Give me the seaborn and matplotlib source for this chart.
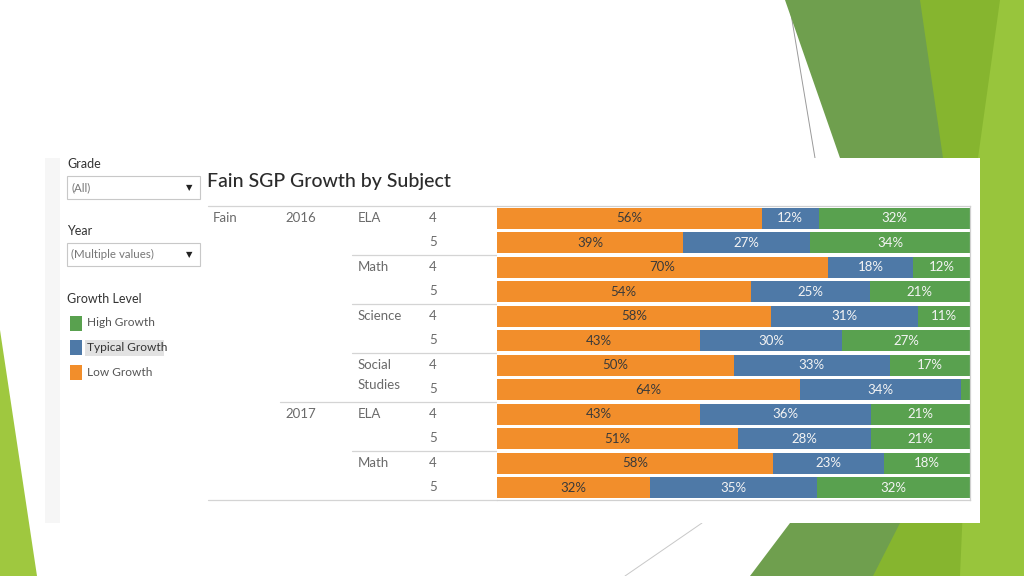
import numpy as np
import pandas as pd
import matplotlib
matplotlib.use("Agg")
import matplotlib.pyplot as plt
from matplotlib.patches import Polygon, Rectangle
from matplotlib.lines import Line2D
import seaborn as sns

# ---------------- data ----------------
years    = ["2016", "2016", "2016", "2016", "2016", "2016", "2016", "2016", "2017", "2017", "2017", "2017"]
subjects = ["ELA", "ELA", "Math", "Math", "Science", "Science", "Social\nStudies", "Social\nStudies",
            "ELA", "ELA", "Math", "Math"]
grades   = ["4", "5", "4", "5", "4", "5", "4", "5", "4", "5", "4", "5"]
low      = [56.0, 39.3, 70.0, 53.6, 58.0, 43.0, 50.0, 64.0, 43.0, 51.0, 58.4, 32.3]
typical  = [12.0, 26.9, 18.0, 25.2, 31.0, 30.0, 33.0, 34.0, 36.0, 28.0, 23.4, 35.4]
high     = [32.0, 33.8, 12.0, 21.2, 11.0, 27.0, 17.0, 2.0, 21.0, 21.0, 18.2, 32.3]
levels   = ["High Growth", "Typical Growth", "Low Growth"]
colors   = {"High Growth": "#59A14F", "Typical Growth": "#4E79A7", "Low Growth": "#F28E2B"}
title    = "Fain SGP Growth by Subject"
school   = "Fain"

df = pd.DataFrame({"year": years, "subject": subjects, "grade": grades,
                   "low": low, "typical": typical, "high": high})
df["key"] = [f"{y}|{s}|{g}" for y, s, g in zip(years, subjects, grades)]
df["c_low"] = df["low"]
df["c_typ"] = df["low"] + df["typical"]
df["c_high"] = df["low"] + df["typical"] + df["high"]

sns.set_theme(style="white")
FONT = ["Lato", "DejaVu Sans"]
plt.rcParams["font.family"] = FONT

W, H = 1024, 576
fig = plt.figure(figsize=(W / 100, H / 100), dpi=100)
fig.patch.set_facecolor("white")

def fx(x): return x / W
def fy(y): return 1 - y / H
def P(pts): return [(fx(x), fy(y)) for x, y in pts]

# ---------------- slide decoration ----------------
fig.patches.append(Polygon(P([(785, 0), (1024, 0), (1024, 576), (750, 576), (790, 523), (840, 158)]),
                           closed=True, transform=fig.transFigure, facecolor="#6f9f4e", edgecolor="none", zorder=0))
fig.patches.append(Polygon(P([(920, 0), (1024, 0), (1024, 576), (873, 576), (900, 523), (943, 158)]),
                           closed=True, transform=fig.transFigure, facecolor="#86b52f", edgecolor="none", zorder=0))
fig.patches.append(Polygon(P([(1000, 0), (1024, 0), (1024, 576), (960, 576), (978, 158)]),
                           closed=True, transform=fig.transFigure, facecolor="#98c53c", edgecolor="none", zorder=0))
fig.patches.append(Polygon(P([(0, 330), (37, 576), (0, 576)]),
                           closed=True, transform=fig.transFigure, facecolor="#9fc83f", edgecolor="none", zorder=0))
fig.lines.append(Line2D([fx(790), fx(815)], [fy(8), fy(158)], transform=fig.transFigure,
                        color="#9a9a9a", lw=0.7, zorder=0))
fig.lines.append(Line2D([fx(625), fx(702)], [fy(576), fy(523)], transform=fig.transFigure,
                        color="#c8c8c8", lw=0.7, zorder=0))
# dashboard panel
fig.patches.append(Rectangle((fx(45), fy(523)), fx(980) - fx(45), fy(158) - fy(523),
                             transform=fig.transFigure, facecolor="white", edgecolor="none", zorder=1))
fig.patches.append(Rectangle((fx(45), fy(523)), fx(60) - fx(45), fy(158) - fy(523),
                             transform=fig.transFigure, facecolor="#f6f6f6", edgecolor="none", zorder=1))

# ---------------- filter / legend panel ----------------
TXT = "#333333"
fig.text(fx(67), fy(164), "Grade", fontsize=9, color=TXT, va="center", ha="left", zorder=3)
fig.patches.append(Rectangle((fx(67), fy(199)), fx(200) - fx(67), fy(176) - fy(199),
                             transform=fig.transFigure, facecolor="white", edgecolor="#c8c8c8", lw=0.8, zorder=2))
fig.text(fx(71), fy(187.5), "(All)", fontsize=8.3, color="#777777", va="center", ha="left", zorder=3)
fig.text(fx(189), fy(187.5), "▼", fontsize=6, color="#222222", va="center", ha="center",
         family=["DejaVu Sans"], zorder=3)

fig.text(fx(67), fy(231), "Year", fontsize=9, color=TXT, va="center", ha="left", zorder=3)
fig.patches.append(Rectangle((fx(67), fy(266)), fx(200) - fx(67), fy(243) - fy(266),
                             transform=fig.transFigure, facecolor="white", edgecolor="#c8c8c8", lw=0.8, zorder=2))
fig.text(fx(71), fy(254.5), "(Multiple values)", fontsize=8.3, color="#777777", va="center", ha="left", zorder=3)
fig.text(fx(189), fy(254.5), "▼", fontsize=6, color="#222222", va="center", ha="center",
         family=["DejaVu Sans"], zorder=3)

fig.text(fx(67), fy(299), "Growth Level", fontsize=9, color=TXT, va="center", ha="left", zorder=3)
for i, lev in enumerate(levels):
    yc = 323 + i * 24.5
    if lev == "Typical Growth":
        fig.patches.append(Rectangle((fx(85), fy(yc + 8)), fx(164) - fx(85), fy(yc - 8) - fy(yc + 8),
                                     transform=fig.transFigure, facecolor="#e2e2e2", edgecolor="none", zorder=2))
    fig.patches.append(Rectangle((fx(70), fy(yc + 7.5)), fx(82) - fx(70), fy(yc - 7.5) - fy(yc + 7.5),
                                 transform=fig.transFigure, facecolor=colors[lev], edgecolor="none", zorder=3))
    fig.text(fx(87), fy(yc), lev, fontsize=8.6, color="#555555" if lev != "Typical Growth" else "#333333",
             va="center", ha="left", zorder=4)

# ---------------- title ----------------
fig.text(fx(207), fy(181), title, fontsize=14, color="#2b2b2b", va="center", ha="left",
         fontweight="medium", zorder=3)

# ---------------- bar axes ----------------
top, bottom, left, right = 206, 500, 497, 970
ax = fig.add_axes([fx(left), fy(bottom), fx(right) - fx(left), fy(top) - fy(bottom)], zorder=5)
ax.patch.set_alpha(0)
order = list(df["key"])
for col, lev in [("c_high", "High Growth"), ("c_typ", "Typical Growth"), ("c_low", "Low Growth")]:
    sns.barplot(data=df, y="key", x=col, order=order, orient="h", color=colors[lev],
                saturation=1, width=0.86, errorbar=None, ax=ax, linewidth=0)
ax.set_xlim(0, 100)
ax.set_ylim(len(order) - 0.5, -0.5)
ax.set_xlabel("")
ax.set_ylabel("")
ax.set_xticks([])
ax.set_yticks([])
for s in ["top", "bottom", "right"]:
    ax.spines[s].set_visible(True)
    ax.spines[s].set_color("#d0d0d0")
    ax.spines[s].set_linewidth(0.9)
ax.spines["left"].set_visible(False)

for i, r in df.iterrows():
    starts = [0, r["low"], r["low"] + r["typical"]]
    vals = [r["low"], r["typical"], r["high"]]
    tcols = ["#3a3a3a", "#f4f4f4", "#f4f4f4"]
    for s0, v, tc in zip(starts, vals, tcols):
        if v >= 5:
            ax.text(s0 + v / 2, i, f"{v:.0f}%", ha="center", va="center", fontsize=9.5, color=tc)

# ---------------- row header axes ----------------
hx0 = 208
hax = fig.add_axes([fx(hx0), fy(bottom), fx(left) - fx(hx0), fy(top) - fy(bottom)], zorder=4)
hax.set_xlim(hx0, left)
hax.set_ylim(len(order) - 0.5, -0.5)
hax.axis("off")
col_school, col_year, col_subj, col_grade = 213, 285, 358, 429
HC = "#6a6a6a"
FS = 9.5

hax.text(col_school, -0.02, school, ha="left", va="center", fontsize=FS, color=HC)
prev_y, prev_s = None, None
for i, (y, s, g) in enumerate(zip(years, subjects, grades)):
    new_year = y != prev_y
    new_subj = new_year or s != prev_s
    if new_year:
        hax.text(col_year, i - 0.02, y, ha="left", va="center", fontsize=FS, color=HC)
        if i > 0:
            hax.plot([col_year - 5, left], [i - 0.5, i - 0.5], color="#d4d4d4", lw=0.9)
    if new_subj:
        for k, line in enumerate(s.split("\n")):
            hax.text(col_subj, i - 0.02 + k * 0.82, line, ha="left", va="center", fontsize=FS, color=HC)
        if i > 0 and not new_year:
            hax.plot([col_subj - 6, left], [i - 0.5, i - 0.5], color="#d4d4d4", lw=0.9)
    hax.text(col_grade, i - 0.02, g, ha="left", va="center", fontsize=FS, color=HC)
    prev_y, prev_s = y, s
hax.plot([hx0, left], [-0.5, -0.5], color="#d4d4d4", lw=0.9, clip_on=False)
hax.plot([hx0, left], [len(order) - 0.5] * 2, color="#d4d4d4", lw=0.9, clip_on=False)

fig.savefig("out.png", dpi=100)
